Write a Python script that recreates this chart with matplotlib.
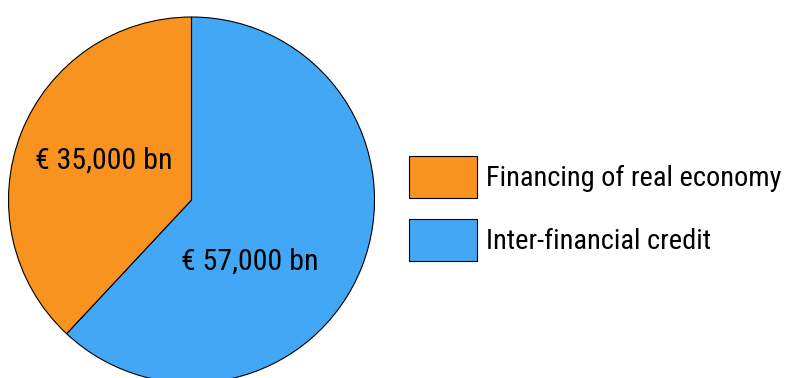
import matplotlib
matplotlib.use("Agg")
import matplotlib.pyplot as plt

plt.rcParams['font.family'] = ['Roboto Condensed', 'DejaVu Sans']

categories = ["Inter-financial credit", "Financing of real economy"]
values = [57000, 35000]
value_labels = ["€ 57,000 bn", "€ 35,000 bn"]
colors = ["#42A7F5", "#F7931E"]

W, H = 785, 378
fig = plt.figure(figsize=(W/100, H/100), dpi=100)
ax = fig.add_axes([0, 0, 1, 1])
ax.set_xlim(0, W)
ax.set_ylim(0, H)
ax.set_aspect('equal')
ax.axis('off')

wedges, texts = ax.pie(values, colors=colors, startangle=90, counterclock=False,
                       center=(191.5, H - 200), radius=183, labels=value_labels,
                       labeldistance=0.5,
                       wedgeprops=dict(edgecolor='black', linewidth=0.8),
                       textprops=dict(fontsize=21.5, color='black', ha='center', va='center'))
ax.set_xlim(0, W)
ax.set_ylim(0, H)
texts[0].set_position((249.5, H - 262))
texts[1].set_position((104, H - 161))
for t in texts:
    t.set_ha('center'); t.set_va('center')

leg = ax.legend([wedges[1], wedges[0]], [categories[1], categories[0]],
                loc='upper left', bbox_to_anchor=(409/W, 1 - 156/H),
                frameon=False, fontsize=20.4, handlelength=2.4, handleheight=1.9,
                handletextpad=0.33, labelspacing=0.74, borderpad=0, borderaxespad=0)
fig.savefig("out.png", dpi=100)
